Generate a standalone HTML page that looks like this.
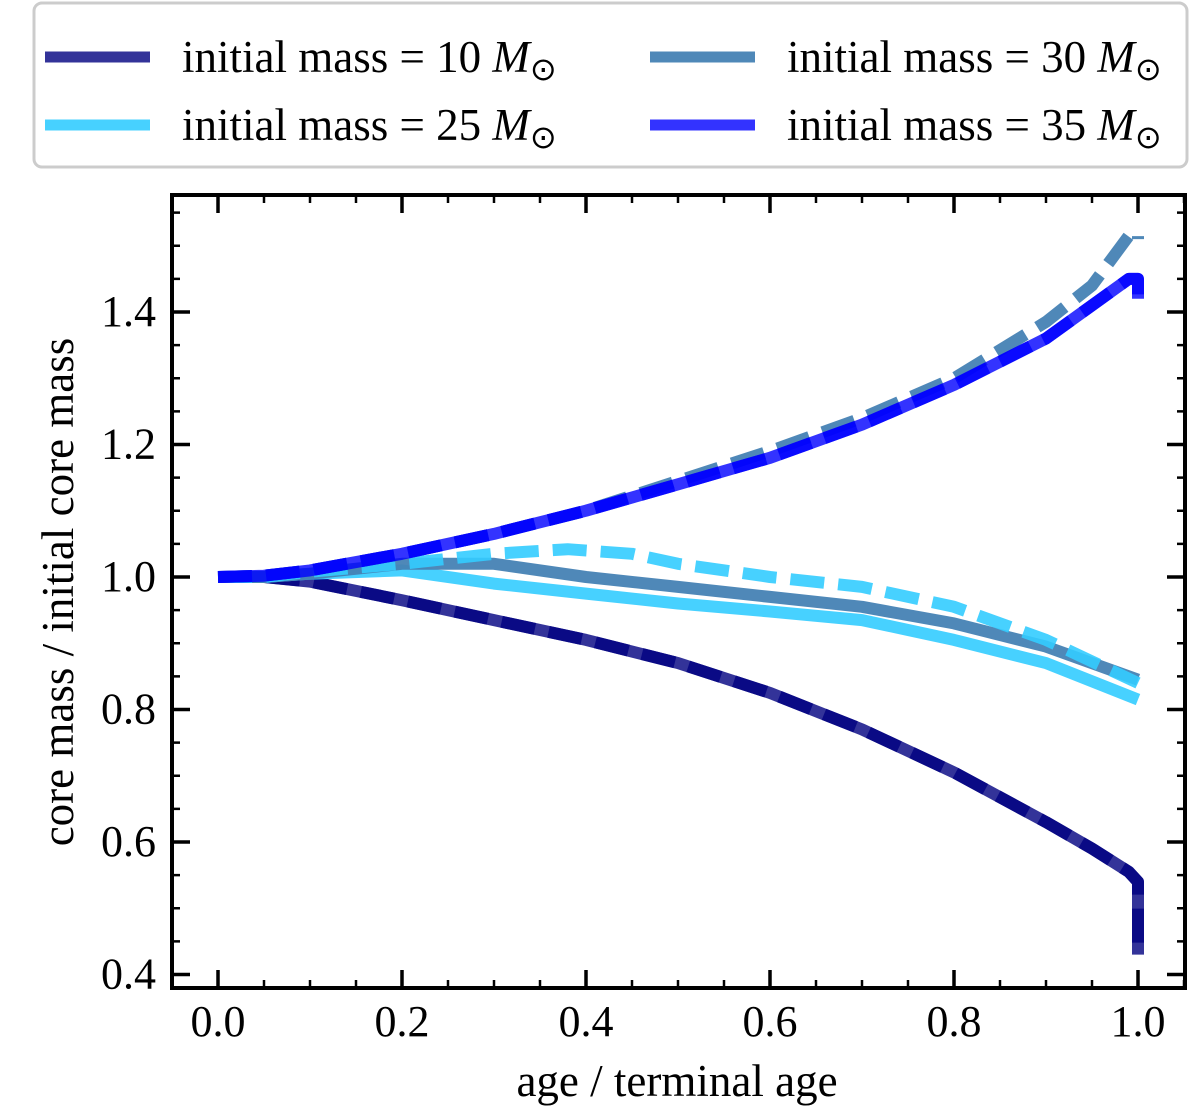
<!DOCTYPE html>
<html><head><meta charset="utf-8"><style>
body{margin:0;background:#fff;}
svg text{font-family:"Liberation Serif",serif;fill:#000;}
</style></head><body>
<svg id="chart" width="1200" height="1108" viewBox="0 0 1200 1108">
<g id="legend">
<rect x="34" y="3" width="1153" height="164" rx="8" fill="#fff" stroke="#ccc" stroke-width="3"/>
<g><line x1="45" y1="57" x2="150" y2="57" stroke="#000080" stroke-opacity="0.8" stroke-width="11"/><text x="182" y="72" font-size="45">initial mass = 10 <tspan font-style="italic">M</tspan><tspan font-size="32" dy="8">⊙</tspan></text></g>
<g><line x1="45" y1="125" x2="150" y2="125" stroke="#33ccff" stroke-opacity="0.9" stroke-width="11"/><text x="182" y="140" font-size="45">initial mass = 25 <tspan font-style="italic">M</tspan><tspan font-size="32" dy="8">⊙</tspan></text></g>
<g><line x1="650" y1="57" x2="755" y2="57" stroke="#4682b4" stroke-opacity="0.95" stroke-width="11"/><text x="787" y="72" font-size="45">initial mass = 30 <tspan font-style="italic">M</tspan><tspan font-size="32" dy="8">⊙</tspan></text></g>
<g><line x1="650" y1="125" x2="755" y2="125" stroke="#0000ff" stroke-opacity="0.8" stroke-width="11"/><text x="787" y="140" font-size="45">initial mass = 35 <tspan font-style="italic">M</tspan><tspan font-size="32" dy="8">⊙</tspan></text></g>
</g>
<g id="series"></g>
<g id="axes"></g>
<text x="677" y="1096" font-size="45" text-anchor="middle">age / terminal age</text>
<text transform="translate(73,592) rotate(-90)" font-size="45" text-anchor="middle">core mass / initial core mass</text>
</svg>
<script>
const xTicks=[0,0.2,0.4,0.6,0.8,1.0];
const yTicks=[0.4,0.6,0.8,1.0,1.2,1.4];
const x35=[0,0.05,0.1,0.2,0.3,0.4,0.5,0.6,0.7,0.8,0.9,0.95,0.99,1.0,1.0];
const y35=[1.0,1.002,1.01,1.035,1.065,1.10,1.14,1.18,1.23,1.29,1.36,1.41,1.45,1.45,1.42];
const x30d=[0,0.05,0.1,0.2,0.3,0.4,0.5,0.6,0.7,0.8,0.9,0.95,0.99,1.0,1.0];
const y30d=[1.0,1.002,1.01,1.035,1.065,1.10,1.145,1.19,1.24,1.30,1.385,1.44,1.515,1.52,1.51];
const x30=[0,0.05,0.1,0.2,0.3,0.4,0.5,0.6,0.7,0.8,0.9,1.0];
const y30=[1.0,1.0,1.005,1.02,1.02,1.0,0.985,0.97,0.955,0.93,0.895,0.845];
const x25=[0,0.05,0.1,0.2,0.3,0.4,0.5,0.6,0.7,0.8,0.9,1.0];
const y25=[1.0,1.0,1.005,1.01,0.99,0.975,0.96,0.948,0.935,0.905,0.87,0.815];
const x25d=[0,0.05,0.1,0.2,0.3,0.38,0.45,0.5,0.6,0.7,0.8,0.9,1.0];
const y25d=[1.0,1.0,1.008,1.02,1.035,1.042,1.035,1.02,1.0,0.985,0.955,0.905,0.84];
const x10=[0,0.05,0.1,0.2,0.3,0.4,0.5,0.6,0.7,0.8,0.9,0.95,0.99,1.0,1.0];
const y10=[1.0,1.0,0.993,0.965,0.935,0.905,0.87,0.825,0.77,0.705,0.63,0.59,0.555,0.54,0.43];
const X0=218,XS=920,Y0=577,YS=662.5;
const sx=v=>X0+v*XS, sy=v=>Y0-(v-1)*YS;
const NS="http://www.w3.org/2000/svg";
const sg=document.getElementById('series');
function line(xs,ys,color,op,dash,name){
  const p=document.createElementNS(NS,'path');
  p.setAttribute('d',xs.map((x,i)=>(i?'L':'M')+sx(x).toFixed(1)+','+sy(ys[i]).toFixed(1)).join(''));
  p.setAttribute('fill','none');p.setAttribute('stroke',color);p.setAttribute('stroke-opacity',op);
  p.setAttribute('stroke-width','12');p.setAttribute('stroke-linejoin','round');
  if(dash)p.setAttribute('stroke-dasharray',dash);
  
  
  sg.appendChild(p);
}
line(x10,y10,'#000080',0.8,null,'line-10-solid');
line(x10,y10,'#000080',0.8,'34,14','line-10-dashed');
line(x25,y25,'#33ccff',0.9,null,'line-25-solid');
line(x30,y30,'#4682b4',0.95,null,'line-30-solid');
line(x25d,y25d,'#33ccff',0.9,'34,14','line-25-dashed');
line(x30d,y30d,'#4682b4',0.95,'34,14','line-30-dashed');
line(x35,y35,'#0000ff',0.8,null,'line-35-solid');
line(x35,y35,'#0000ff',0.8,'34,14','line-35-dashed');
const ax=document.getElementById('axes');
const L=172,R=1185,T=195,B=988;
let h='<rect x="'+L+'" y="'+T+'" width="'+(R-L)+'" height="'+(B-T)+'" fill="none" stroke="#000" stroke-width="4"/>';
for(let v=-0.05;v<=1.051;v+=0.05){const x=sx(v),maj=Math.abs(Math.round(v*5)-v*5)<1e-6,l=maj?18:8;
 h+='<line x1="'+x+'" y1="'+B+'" x2="'+x+'" y2="'+(B-l)+'" stroke="#000" stroke-width="'+(maj?3.5:2.5)+'"/><line x1="'+x+'" y1="'+T+'" x2="'+x+'" y2="'+(T+l)+'" stroke="#000" stroke-width="'+(maj?3.5:2.5)+'"/>';}
for(let v=0.4;v<=1.57;v+=0.05){const y=sy(v),maj=Math.abs(Math.round(v*5)-v*5)<1e-6,l=maj?18:8;
 h+='<line x1="'+L+'" y1="'+y+'" x2="'+(L+l)+'" y2="'+y+'" stroke="#000" stroke-width="'+(maj?3.5:2.5)+'"/><line x1="'+R+'" y1="'+y+'" x2="'+(R-l)+'" y2="'+y+'" stroke="#000" stroke-width="'+(maj?3.5:2.5)+'"/>';}
xTicks.forEach(v=>{h+='<text x="'+sx(v)+'" y="1036" font-size="44" text-anchor="middle">'+v.toFixed(1)+'</text>';});
yTicks.forEach(v=>{h+='<text x="156" y="'+(sy(v)+14)+'" font-size="44" text-anchor="end">'+v.toFixed(1)+'</text>';});
ax.innerHTML=h;
</script>
</body></html>
